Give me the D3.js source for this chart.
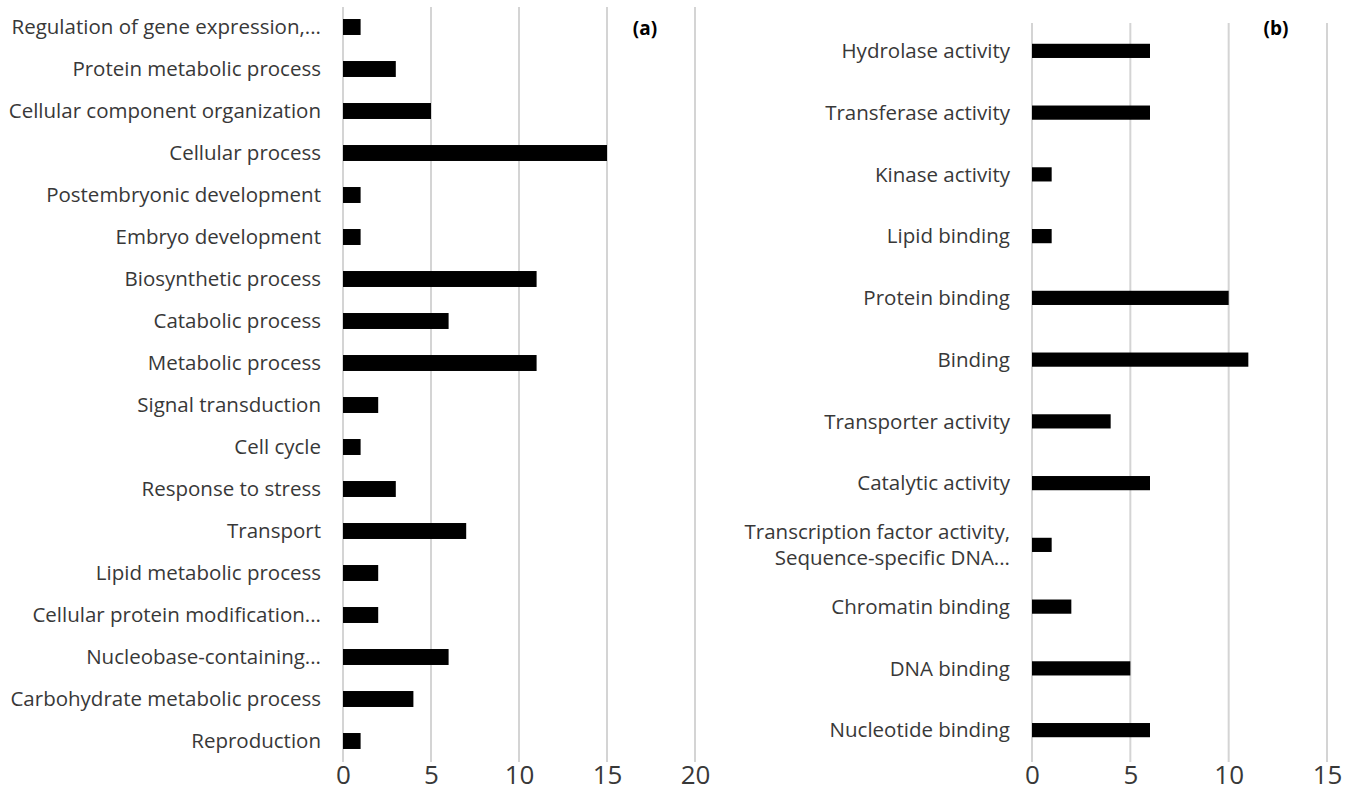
<!DOCTYPE html>
<html>
<head>
<meta charset="utf-8">
<script src="https://cdn.jsdelivr.net/npm/d3@7"></script>
<style>
  body { margin: 0; background: #fff; }
  svg { font-family: "Open Sans", sans-serif; }
</style>
</head>
<body>
<svg id="chart" width="1355" height="796"></svg>
<script>
// panel (a): biological process
var catsA = [ "Regulation of gene expression,...", "Protein metabolic process",
  "Cellular component organization", "Cellular process", "Postembryonic development",
  "Embryo development", "Biosynthetic process", "Catabolic process", "Metabolic process",
  "Signal transduction", "Cell cycle", "Response to stress", "Transport",
  "Lipid metabolic process", "Cellular protein modification...", "Nucleobase-containing...",
  "Carbohydrate metabolic process", "Reproduction" ];
var valsA = [ 1, 3, 5, 15, 1, 1, 11, 6, 11, 2, 1, 3, 7, 2, 2, 6, 4, 1 ];
var ticksA = [ 0, 5, 10, 15, 20 ];

// panel (b): molecular function
var catsB = [ "Hydrolase activity", "Transferase activity", "Kinase activity",
  "Lipid binding", "Protein binding", "Binding", "Transporter activity",
  "Catalytic activity", "Transcription factor activity,|Sequence-specific DNA...",
  "Chromatin binding", "DNA binding", "Nucleotide binding" ];
var valsB = [ 6, 6, 1, 1, 10, 11, 4, 6, 1, 2, 5, 6 ];
var ticksB = [ 0, 5, 10, 15 ];

var svg = d3.select( "#chart" );

function panel( cats, vals, ticks, xr, yr, pad, gridTop, tag, tagX ) {
    var x = d3.scaleLinear().domain( [0, ticks[ticks.length-1]] ).range( xr );
    var y = d3.scaleBand().domain( cats ).range( yr )
        .paddingInner( pad ).paddingOuter( pad/2 );
    var g = svg.append( "g" );

    g.selectAll( "line.grid" ).data( ticks ).enter()
        .append( "line" ).attr( "class", "grid" )
        .attr( "x1", d=>x(d) ).attr( "x2", d=>x(d) )
        .attr( "y1", gridTop ).attr( "y2", 762 )
        .attr( "stroke", "#d4d4d4" ).attr( "stroke-width", 2 );

    g.selectAll( "rect" ).data( vals ).enter()
        .append( "rect" )
        .attr( "x", x(0) ).attr( "y", (d,i)=>y(cats[i]) )
        .attr( "width", d=>x(d)-x(0) ).attr( "height", y.bandwidth() )
        .attr( "fill", "#000" );

    var lab = g.selectAll( "text.lab" ).data( cats ).enter()
        .append( "text" ).attr( "class", "lab" )
        .attr( "text-anchor", "end" ).attr( "font-size", 20.5 )
        .attr( "fill", "#383838" )
        .attr( "x", x(0)-22 )
        .attr( "y", d=>y(d)+y.bandwidth()/2 );
    lab.each( function(d) {
        var parts = d.split( "|" ), t = d3.select( this );
        parts.forEach( function(p, k) {
            t.append( "tspan" ).attr( "x", x(0)-22 )
                .attr( "dy", k==0 ? (0.35-(parts.length-1)*0.65)+"em" : "1.3em" )
                .text( p );
        } );
    } );

    var ax = g.append( "g" ).attr( "transform", "translate(0,766)" )
        .call( d3.axisBottom( x ).tickValues( ticks ).tickSize( 0 ).tickPadding( 4 ) );
    ax.select( ".domain" ).remove();
    ax.selectAll( "text" ).attr( "font-size", 26 ).attr( "fill", "#383838" )
        .attr( "font-family", "Open Sans, sans-serif" ).attr( "dy", "0.55em" );

    g.append( "text" ).attr( "x", tagX ).attr( "y", 35 )
        .attr( "text-anchor", "middle" ).attr( "font-size", 19 )
        .attr( "font-weight", "bold" ).text( tag );
}

panel( catsA, valsA, ticksA, [343, 695], [6, 762], 0.62, 7, "(a)", 645 );
panel( catsB, valsB, ticksB, [1032, 1327], [20, 761], 0.77, 23, "(b)", 1276 );
</script>
</body>
</html>
